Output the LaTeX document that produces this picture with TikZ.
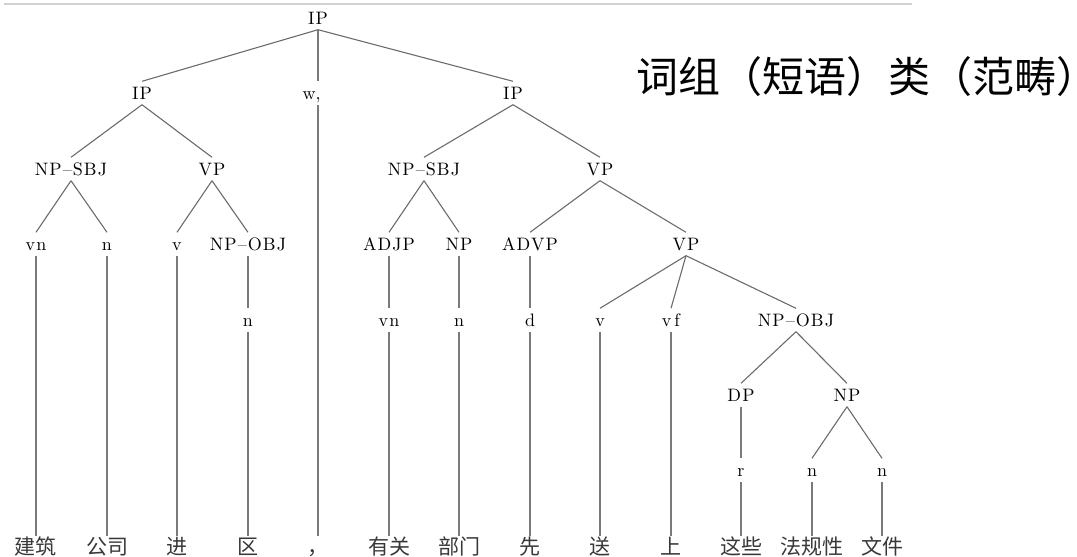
\documentclass[tikz,border=0pt]{standalone}
\usepackage{fontspec}
\newfontfamily\cjk{Noto Sans CJK SC}
\newfontfamily\labf{lmroman10-regular.otf}[LetterSpace=6]
\newcommand\labfont{\labf\fontsize{18}{21}\selectfont}
\newcommand\wordfont{\cjk\fontsize{21}{24}\selectfont}
\newcommand\titlefont{\cjk\fontsize{42}{46}\selectfont}
\begin{document}
\begin{tikzpicture}[x=1pt,y=-1pt,
  lab/.style={font=\labfont, text=black, inner sep=0pt, text height=12pt, text depth=0pt, minimum height=23pt},
  wrd/.style={font=\wordfont, text=black!78, inner sep=0pt, text height=17.5pt, text depth=1.5pt, minimum height=19pt},
  br/.style={draw=black!58, line width=1.1pt},
  vline/.style={draw=black!52, line width=1.6pt}]
\useasboundingbox (0,0) rectangle (1077,557);
\draw[black!18, line width=1.5pt] (4,4) -- (912,4);
\node[font=\titlefont, text=black, inner sep=0pt, anchor=west] (title) at (636,77) {词组（短语）类（范畴\rlap{）}};
% tree labels
\node[lab] (ip0) at (318,18) {IP};
\node[lab] (ip1) at (142,93) {IP};
\node[lab] (w) at (318,93) {\llap{w},};
\node[lab] (ip2) at (513,93) {IP};
\node[lab] (sbj1) at (71,169) {NP–SBJ};
\node[lab] (vp1) at (212,169) {VP};
\node[lab] (sbj2) at (424,169) {NP–SBJ};
\node[lab] (vp2) at (600,169) {VP};
\node[lab] (vn1) at (36,244) {vn};
\node[lab] (n1) at (107,244) {n};
\node[lab] (v1) at (177,244) {v};
\node[lab] (obj1) at (248,244) {NP–OBJ};
\node[lab] (adjp) at (389,244) {ADJP};
\node[lab] (np1) at (459,244) {NP};
\node[lab] (advp) at (530,244) {ADVP};
\node[lab] (vp3) at (686,244) {VP};
\node[lab] (n2) at (248,320) {n};
\node[lab] (vn2) at (389,320) {vn};
\node[lab] (n3) at (459,320) {n};
\node[lab] (d) at (530,320) {d};
\node[lab] (v2) at (600,320) {v};
\node[lab] (vf) at (671,320) {v\hspace{3pt}f};
\node[lab] (obj2) at (796,320) {NP–OBJ};
\node[lab] (dp) at (741,395) {DP};
\node[lab] (np2) at (847,395) {NP};
\node[lab] (r) at (741,470) {r};
\node[lab] (n4) at (812,470) {n};
\node[lab] (n5) at (882,470) {n};
% words
\node[wrd] (w1) at (36,546) {建筑};
\node[wrd] (w2) at (107,546) {公司};
\node[wrd] (w3) at (177,546) {进};
\node[wrd] (w4) at (248,546) {区};
\node[wrd] (w5) at (318,546) {，};
\node[wrd] (w6) at (389,546) {有关};
\node[wrd] (w7) at (459,546) {部门};
\node[wrd] (w8) at (530,546) {先};
\node[wrd] (w9) at (600,546) {送};
\node[wrd] (w10) at (671,546) {上};
\node[wrd] (w11) at (741,546) {这些};
\node[wrd] (w12) at (812,546) {法规性};
\node[wrd] (w13) at (882,546) {文件};
% branches
\draw[br] (ip0.south) -- (ip1.north);
\draw[vline] (ip0.south) -- (w.north);
\draw[br] (ip0.south) -- (ip2.north);
\draw[br] (ip1.south) -- (sbj1.north);
\draw[br] (ip1.south) -- (vp1.north);
\draw[br] (ip2.south) -- (sbj2.north);
\draw[br] (ip2.south) -- (vp2.north);
\draw[br] (sbj1.south) -- (vn1.north);
\draw[br] (sbj1.south) -- (n1.north);
\draw[br] (vp1.south) -- (v1.north);
\draw[br] (vp1.south) -- (obj1.north);
\draw[br] (sbj2.south) -- (adjp.north);
\draw[br] (sbj2.south) -- (np1.north);
\draw[br] (vp2.south) -- (advp.north);
\draw[br] (vp2.south) -- (vp3.north);
\draw[vline] (obj1.south) -- (n2.north);
\draw[vline] (adjp.south) -- (vn2.north);
\draw[vline] (np1.south) -- (n3.north);
\draw[vline] (advp.south) -- (d.north);
\draw[br] (vp3.south) -- (v2.north);
\draw[br] (vp3.south) -- (vf.north);
\draw[br] (vp3.south) -- (obj2.north);
\draw[br] (obj2.south) -- (dp.north);
\draw[br] (obj2.south) -- (np2.north);
\draw[vline] (dp.south) -- (r.north);
\draw[br] (np2.south) -- (n4.north);
\draw[br] (np2.south) -- (n5.north);
% leaves
\draw[vline] (vn1.south) -- (w1.north);
\draw[vline] (n1.south) -- (w2.north);
\draw[vline] (v1.south) -- (w3.north);
\draw[vline] (n2.south) -- (w4.north);
\draw[vline] (w.south) -- (w5.north);
\draw[vline] (vn2.south) -- (w6.north);
\draw[vline] (n3.south) -- (w7.north);
\draw[vline] (d.south) -- (w8.north);
\draw[vline] (v2.south) -- (w9.north);
\draw[vline] (vf.south) -- (w10.north);
\draw[vline] (r.south) -- (w11.north);
\draw[vline] (n4.south) -- (w12.north);
\draw[vline] (n5.south) -- (w13.north);
\end{tikzpicture}
\end{document}
